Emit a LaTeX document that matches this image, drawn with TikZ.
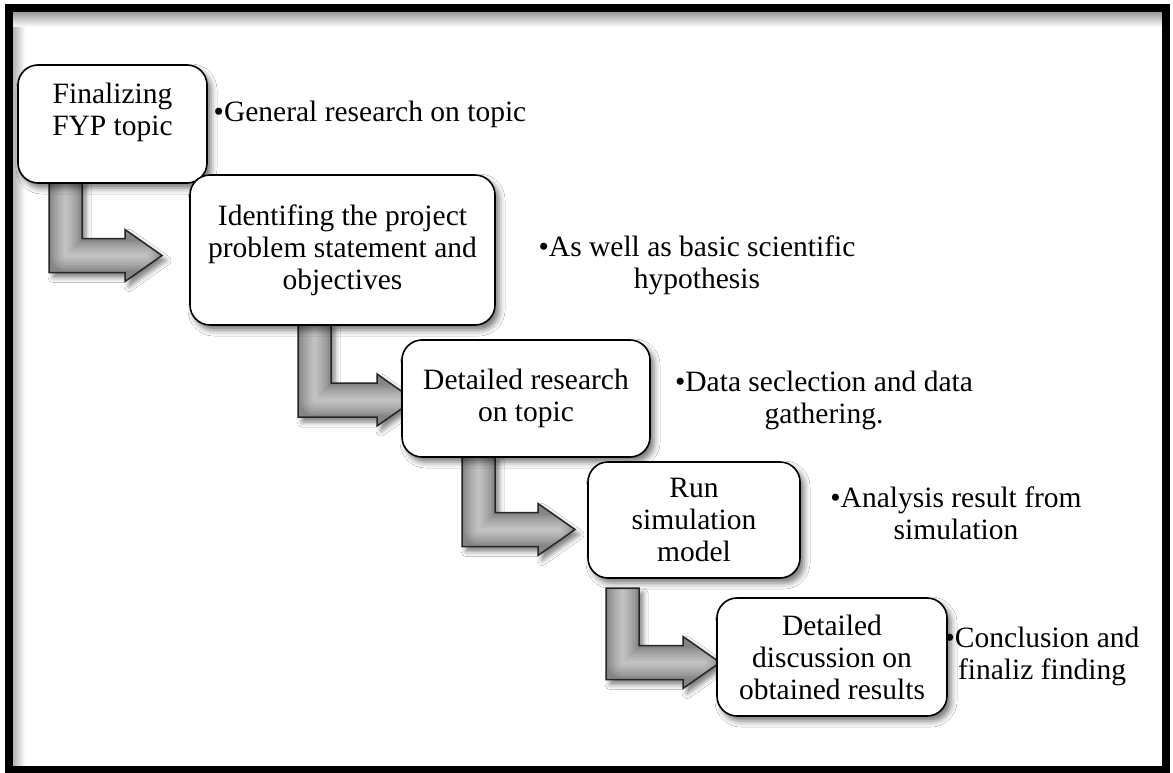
\documentclass[tikz,border=0pt]{standalone}
\usepackage{fontspec}
\setmainfont{Liberation Serif}
\usetikzlibrary{shadows.blur,calc}
\newcommand\arrpoly[4]{(#1,#2) -- (#1+33,#2) -- (#1+33,#3-17) -- (#4-37,#3-17) -- (#4-37,#3-26) -- (#4,#3) -- (#4-37,#3+26) -- (#4-37,#3+17) -- (#1,#3+17) -- cycle}
\newcommand\bentarrow[4]{%
  \fill[black!48, blur shadow={shadow xshift=4pt, shadow yshift=-5pt, shadow blur radius=5pt, shadow opacity=50}] \arrpoly{#1}{#2}{#3}{#4};
  \begin{scope}
    \clip \arrpoly{#1}{#2}{#3}{#4};
    \foreach \w in {30,27,...,3}{
      \draw[white, opacity=.07, line width=\w pt, line join=round, line cap=round] (#1+16.5,#2-20) -- (#1+16.5,#3) -- (#4-16,#3);
    }
  \end{scope}
  \draw[black!85, line width=1.5pt, line join=miter] \arrpoly{#1}{#2}{#3}{#4};
}
\begin{document}
\begin{tikzpicture}[x=1pt,y=-1pt,
  txt/.style={align=center, inner sep=0pt, font=\fontsize{29.5}{32}\selectfont},
  box/.style={txt, draw=black, line width=1.6pt, rounded corners=20pt, fill=white,
    blur shadow={shadow xshift=4pt, shadow yshift=-5pt, shadow blur radius=6pt, shadow opacity=55}},
]
\useasboundingbox (0,0) rectangle (1173,773);
\fill[white] (0,0) rectangle (1173,773);
% inner shadow of frame
\shade[left color=black!30, right color=white] (13,12) rectangle (25,767);
\shade[top color=black!40, bottom color=white] (13,12) rectangle (1162,27);
% bent arrows (drawn behind boxes)
\bentarrow{49}{180}{255.5}{162}
\bentarrow{298}{322}{400}{414}
\bentarrow{462}{455}{529.5}{575}
\bentarrow{606}{588}{662.5}{720}
% boxes
\node[box, minimum width=189, minimum height=118] (b1) at (112.5,124) {};
\node[txt] (b1t) at (112.5,112) {Finalizing\\FYP topic};
\node[box, minimum width=305, minimum height=150] (b2) at (342.5,250) {Identifing the project\\problem statement and\\objectives};
\node[box, minimum width=248, minimum height=117] (b3) at (526,398.5) {Detailed research\\on topic};
\node[box, minimum width=212, minimum height=116] (b4) at (694,520) {Run\\simulation\\model};
\node[box, minimum width=230, minimum height=118] (b5) at (832,657) {Detailed\\discussion on\\obtained results};
% notes
\node[txt] (n1) at (370,114) {•General research on topic};
\node[txt] (n2) at (697,265) {•As well as basic scientific\\hypothesis};
\node[txt] (n3) at (824,400) {•Data seclection and data\\gathering.};
\node[txt] (n4) at (956,513) {•Analysis result from\\simulation};
\node[txt] (n5) at (1042,656) {•Conclusion and\\finaliz finding};
% frame
\draw[black, line width=8pt] (9,8) rectangle (1166,770);
\end{tikzpicture}
\end{document}
